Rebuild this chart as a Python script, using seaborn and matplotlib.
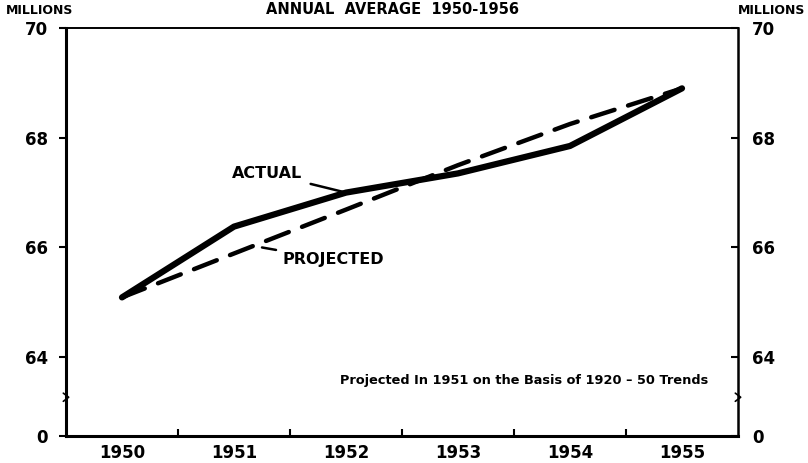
import matplotlib
matplotlib.use("Agg")
import matplotlib.pyplot as plt
import seaborn as sns
import pandas as pd
import numpy as np

years = ["1950", "1951", "1952", "1953", "1954", "1955"]
actual = [65.09, 66.38, 67.0, 67.35, 67.85, 68.9]
projected = [65.09, 65.89, 66.69, 67.5, 68.25, 68.9]
ytick_vals = [64, 66, 68, 70]
ytick_labels = ["64", "66", "68", "70"]
zero_label = "0"

sns.set_theme(style="white")
plt.rcParams["font.family"] = ["DejaVu Sans"]
plt.rcParams["text.color"] = "black"
plt.rcParams["xtick.color"] = "black"
plt.rcParams["ytick.color"] = "black"
plt.rcParams["axes.labelcolor"] = "black"

df = pd.DataFrame({"pos": np.arange(len(years)), "year": years,
                   "Actual": actual, "Projected": projected})

fig = plt.figure(figsize=(8.08, 4.63), dpi=100)
ax = fig.add_axes([66/808, 1-436/463, (738-66)/808, (436-28)/463])

sns.lineplot(data=df, x="pos", y="Projected", ax=ax, color="black", lw=3.2,
             zorder=2)
ax.lines[-1].set_dashes([5.5, 3.2])
ax.lines[-1].set_dash_capstyle("round")
sns.lineplot(data=df, x="pos", y="Actual", ax=ax, color="black", lw=4.5,
             zorder=3, solid_capstyle="round")

ymin = 64 - 79/55
ax.set_xlim(-0.5, len(years) - 0.5)
ax.set_ylim(ymin, 70)

for s in ax.spines.values():
    s.set_visible(True)
    s.set_color("black")
ax.spines["left"].set_linewidth(2.2)
ax.spines["bottom"].set_linewidth(2.2)
ax.spines["right"].set_linewidth(1.8)
ax.spines["top"].set_linewidth(1.4)

ax.set_xticks(np.arange(len(years)))
ax.set_xticklabels(years, fontsize=12, fontweight="bold")
ax.set_xticks(np.arange(len(years) - 1) + 0.5, minor=True)
ax.tick_params(axis="x", which="major", length=0, pad=6)
ax.tick_params(axis="x", which="minor", direction="in", length=5, width=1.5,
               color="black", bottom=True)
ax.set_xlabel("")
ax.set_ylabel("")

yt = [ymin] + ytick_vals
yl = [zero_label] + ytick_labels
ax.set_yticks(yt)
ax.set_yticklabels(yl, fontsize=12, fontweight="bold")
ax.tick_params(axis="y", direction="out", length=5, width=1.5, color="black",
               left=True, pad=8)

ax2 = ax.twinx()
ax2.set_ylim(ax.get_ylim())
ax2.set_yticks(yt)
ax2.set_yticklabels(yl, fontsize=12, fontweight="bold")
ax2.tick_params(axis="y", direction="in", length=5, width=1.5, color="black",
                right=True, pad=10)
for s in ax2.spines.values():
    s.set_visible(False)
ax2.grid(False)
ax.grid(False)

for xa in (0, 1):
    ax.plot([xa - 0.004, xa + 0.004, xa - 0.004], [0.085, 0.095, 0.105],
            transform=ax.transAxes, color="black", lw=1.2, clip_on=False, zorder=5)

fig.text(392/808, 1 - 9/463, "ANNUAL  AVERAGE  1950-1956", ha="center", va="center",
         fontsize=10.5, fontweight="bold")
fig.text(40/808, 1 - 11/463, "MILLIONS", ha="center", va="center",
         fontsize=9, fontweight="bold")
fig.text(772/808, 1 - 11/463, "MILLIONS", ha="center", va="center",
         fontsize=9, fontweight="bold")

ax.annotate("ACTUAL", xy=(2, actual[2]), xytext=(-57, 14), textcoords="offset points",
            ha="center", va="center", fontsize=11.5, fontweight="bold",
            arrowprops=dict(arrowstyle="-", color="black", lw=1.8,
                            shrinkA=4, shrinkB=0))
ax.annotate("PROJECTED", xy=(1.25, 66.0), xytext=(51, -9), textcoords="offset points",
            ha="center", va="center", fontsize=11.5, fontweight="bold",
            arrowprops=dict(arrowstyle="-", color="black", lw=1.8,
                            shrinkA=2, shrinkB=0))

ax.text(0.955, 0.135, "Projected In 1951 on the Basis of 1920 \u2013 50 Trends",
        transform=ax.transAxes, ha="right", va="center", fontsize=9.3,
        fontweight="bold")

fig.savefig("out.png", dpi=100)
